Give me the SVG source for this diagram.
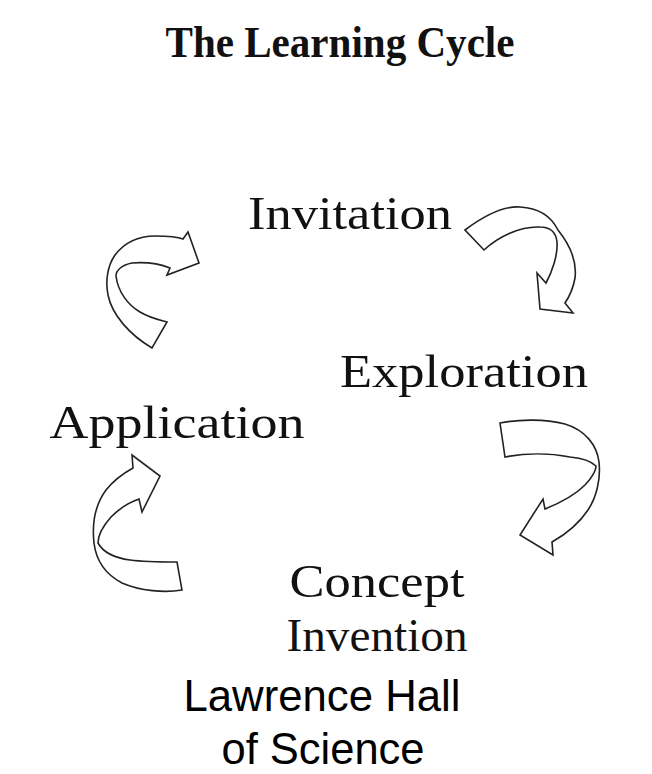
<svg xmlns="http://www.w3.org/2000/svg" width="652" height="774" viewBox="0 0 652 774">
<style>
.serif{font-family:"Liberation Serif","DejaVu Serif",serif;fill:#111;text-anchor:middle}
.title{font-size:45px;font-weight:bold}
.lbl{font-size:47px}
.sans{font-family:"Liberation Sans",Arial,sans-serif;font-size:44px;fill:#000;text-anchor:middle}
.arrow{fill:#fff;stroke:#222;stroke-width:1.6;stroke-linejoin:miter}
</style>
<rect width="652" height="774" fill="#fff"/>
<g id="title"><text class="serif title" x="340" y="57" textLength="349" lengthAdjust="spacingAndGlyphs">The Learning Cycle</text></g>
<g id="invitation"><text class="serif lbl" x="350" y="229" textLength="204" lengthAdjust="spacingAndGlyphs">Invitation</text></g>
<g id="exploration"><text class="serif lbl" x="464" y="387" textLength="248" lengthAdjust="spacingAndGlyphs">Exploration</text></g>
<g id="application"><text class="serif lbl" x="177" y="438" textLength="255" lengthAdjust="spacingAndGlyphs">Application</text></g>
<g id="concept-invention">
<text class="serif lbl" x="377" y="597" textLength="175" lengthAdjust="spacingAndGlyphs">Concept</text>
<text class="serif lbl" x="377" y="651" textLength="181" lengthAdjust="spacingAndGlyphs">Invention</text>
</g>
<g id="credit">
<text class="sans" x="322" y="711" textLength="277" lengthAdjust="spacingAndGlyphs">Lawrence Hall</text>
<text class="sans" x="323" y="764" textLength="203" lengthAdjust="spacingAndGlyphs">of Science</text>
</g>
<g id="connectors">
<path class="arrow" d="M465,230 C485,215 505,206 520,207 C540,208 552,218 558,230 C570,245 577,262 575,278 C573,290 569,297 565,303 L573,313 L540,309 L537,273 L546,283 C552,272 558,255 557,242 C556,232 550,227 540,227 C520,226 498,237 484,250 Z"/>
<path class="arrow" d="M152,348 C130,335 112,315 108,295 C105,280 108,265 115,255 C125,242 140,236 155,236 C168,236 178,237 183,239 L188,232 L199,263 L167,275 L170,268 C160,264 145,262 132,263 C122,265 116,270 116,276 C118,292 128,305 140,312 C150,318 160,320 167,322 Z"/>
<path class="arrow" d="M500,423 C520,419 545,419 565,424 C585,430 597,445 599,462 C601,480 596,498 588,510 C580,522 568,533 552,542 L553,555 L520,535 L543,499 L545,509 C560,503 575,495 585,485 C592,478 596,470 596,466 C590,460 580,458 570,457 C550,453 525,453 505,457 Z"/>
<path class="arrow" d="M182,590 C165,593 140,591 122,583 C105,574 96,560 94,543 C92,525 95,505 106,490 C114,480 124,473 133,468 L132,455 L160,476 L142,512 L139,499 C130,502 120,508 111,517 C103,526 98,535 98,543 C103,552 115,558 130,560 C145,562 160,562 177,562 Z"/>
</g>
</svg>
